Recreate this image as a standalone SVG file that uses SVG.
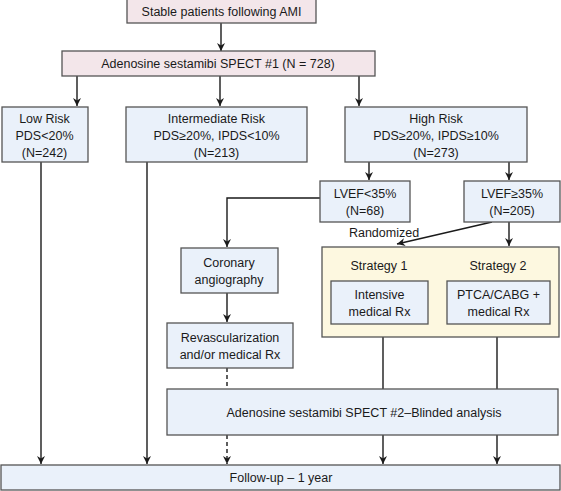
<svg xmlns="http://www.w3.org/2000/svg" width="561" height="491" viewBox="0 0 561 491">
<defs>
<marker id="ah" viewBox="0 0 10 10" refX="10" refY="5" markerWidth="8" markerHeight="8" markerUnits="userSpaceOnUse" orient="auto">
<path d="M0,0 L10,5 L0,10 L3,5 Z" fill="#1a1a1a"/>
</marker>
<style>
text{font-family:"Liberation Sans",Arial,sans-serif;font-size:12.5px;fill:#1a1a1a;text-anchor:middle}
.pink{fill:#f3e6ea;stroke:#555;stroke-width:1.3}
.blue{fill:#eaf1fa;stroke:#555;stroke-width:1.3}
.yel{fill:#fdf8e0;stroke:#555;stroke-width:1.3}
.c{fill:none;stroke:#1a1a1a;stroke-width:1.4}
.d{stroke-dasharray:4,3}
</style>
</defs>
<rect width="561" height="491" fill="#fff"/>
<g id="connectors">
<path class="c" d="M221,23 V51" marker-end="url(#ah)"/>
<path class="c" d="M77,76 V106" marker-end="url(#ah)"/>
<path class="c" d="M220,76 V106" marker-end="url(#ah)"/>
<path class="c" d="M359,76 V106" marker-end="url(#ah)"/>
<path class="c" d="M41,162 V464" marker-end="url(#ah)"/>
<path class="c" d="M147,162 V464" marker-end="url(#ah)"/>
<path class="c" d="M369,162 V180" marker-end="url(#ah)"/>
<path class="c" d="M509,162 V180" marker-end="url(#ah)"/>
<path class="c" d="M320,198 H227 V247" marker-end="url(#ah)"/>
<path class="c" d="M227,293 V322" marker-end="url(#ah)"/>
<path class="c d" d="M227,368 V389"/>
<path class="c d" d="M227,435 V464" marker-end="url(#ah)"/>
<path class="c" d="M492,222 L397,244" marker-end="url(#ah)"/>
<path class="c" d="M509,222 V246" marker-end="url(#ah)"/>
<path class="c" d="M383,337 V389"/>
<path class="c" d="M497,337 V389"/>
<path class="c" d="M383,435 V464" marker-end="url(#ah)"/>
<path class="c" d="M497,435 V464" marker-end="url(#ah)"/>
</g>
<g id="n_stable"><rect class="pink" x="127" y="-1" width="189" height="24"/><text x="221.5" y="16">Stable patients following AMI</text></g>
<g id="n_spect1"><rect class="pink" x="62" y="51" width="313" height="25"/><text x="218" y="68">Adenosine sestamibi SPECT #1 (N = 728)</text></g>
<g id="n_low"><rect class="blue" x="2" y="107" width="86" height="55"/><text x="44.5" y="122.5">Low Risk</text><text x="44.5" y="139.5">PDS&lt;20%</text><text x="44.5" y="156.5">(N=242)</text></g>
<g id="n_inter"><rect class="blue" x="126" y="107" width="181" height="55"/><text x="216.5" y="122.5">Intermediate Risk</text><text x="216.5" y="139.5">PDS≥20%, IPDS&lt;10%</text><text x="216.5" y="156.5">(N=213)</text></g>
<g id="n_high"><rect class="blue" x="345" y="107" width="182" height="55"/><text x="436" y="122.5">High Risk</text><text x="436" y="139.5">PDS≥20%, IPDS≥10%</text><text x="436" y="156.5">(N=273)</text></g>
<g id="n_lvef_lo"><rect class="blue" x="320" y="181" width="90" height="41"/><text x="365" y="198">LVEF&lt;35%</text><text x="365" y="215">(N=68)</text></g>
<g id="n_lvef_hi"><rect class="blue" x="464" y="181" width="96" height="41"/><text x="512" y="198">LVEF≥35%</text><text x="512" y="215">(N=205)</text></g>
<g id="l_random"><text x="384" y="237">Randomized</text></g>
<g id="n_coronary"><rect class="blue" x="181" y="248" width="97" height="45"/><text x="229" y="267">Coronary</text><text x="229" y="284">angiography</text></g>
<g id="n_revasc"><rect class="blue" x="167" y="323" width="126" height="45"/><text x="230" y="342">Revascularization</text><text x="230" y="359">and/or medical Rx</text></g>
<g id="n_random"><rect class="yel" x="322" y="247" width="237" height="90"/><text x="379" y="270">Strategy 1</text><text x="498" y="270">Strategy 2</text></g>
<g id="n_intensive"><rect class="blue" x="331" y="281" width="97" height="43"/><text x="379.5" y="299">Intensive</text><text x="379.5" y="316">medical Rx</text></g>
<g id="n_ptca"><rect class="blue" x="447" y="281" width="103" height="43"/><text x="498.5" y="299">PTCA/CABG +</text><text x="498.5" y="316">medical Rx</text></g>
<g id="n_spect2"><rect class="blue" x="167" y="389" width="391" height="46"/><text x="364" y="417">Adenosine sestamibi SPECT #2–Blinded analysis</text></g>
<g id="n_follow"><rect class="blue" x="1" y="465" width="559" height="25"/><text x="281" y="482">Follow-up – 1 year</text></g>
</svg>
